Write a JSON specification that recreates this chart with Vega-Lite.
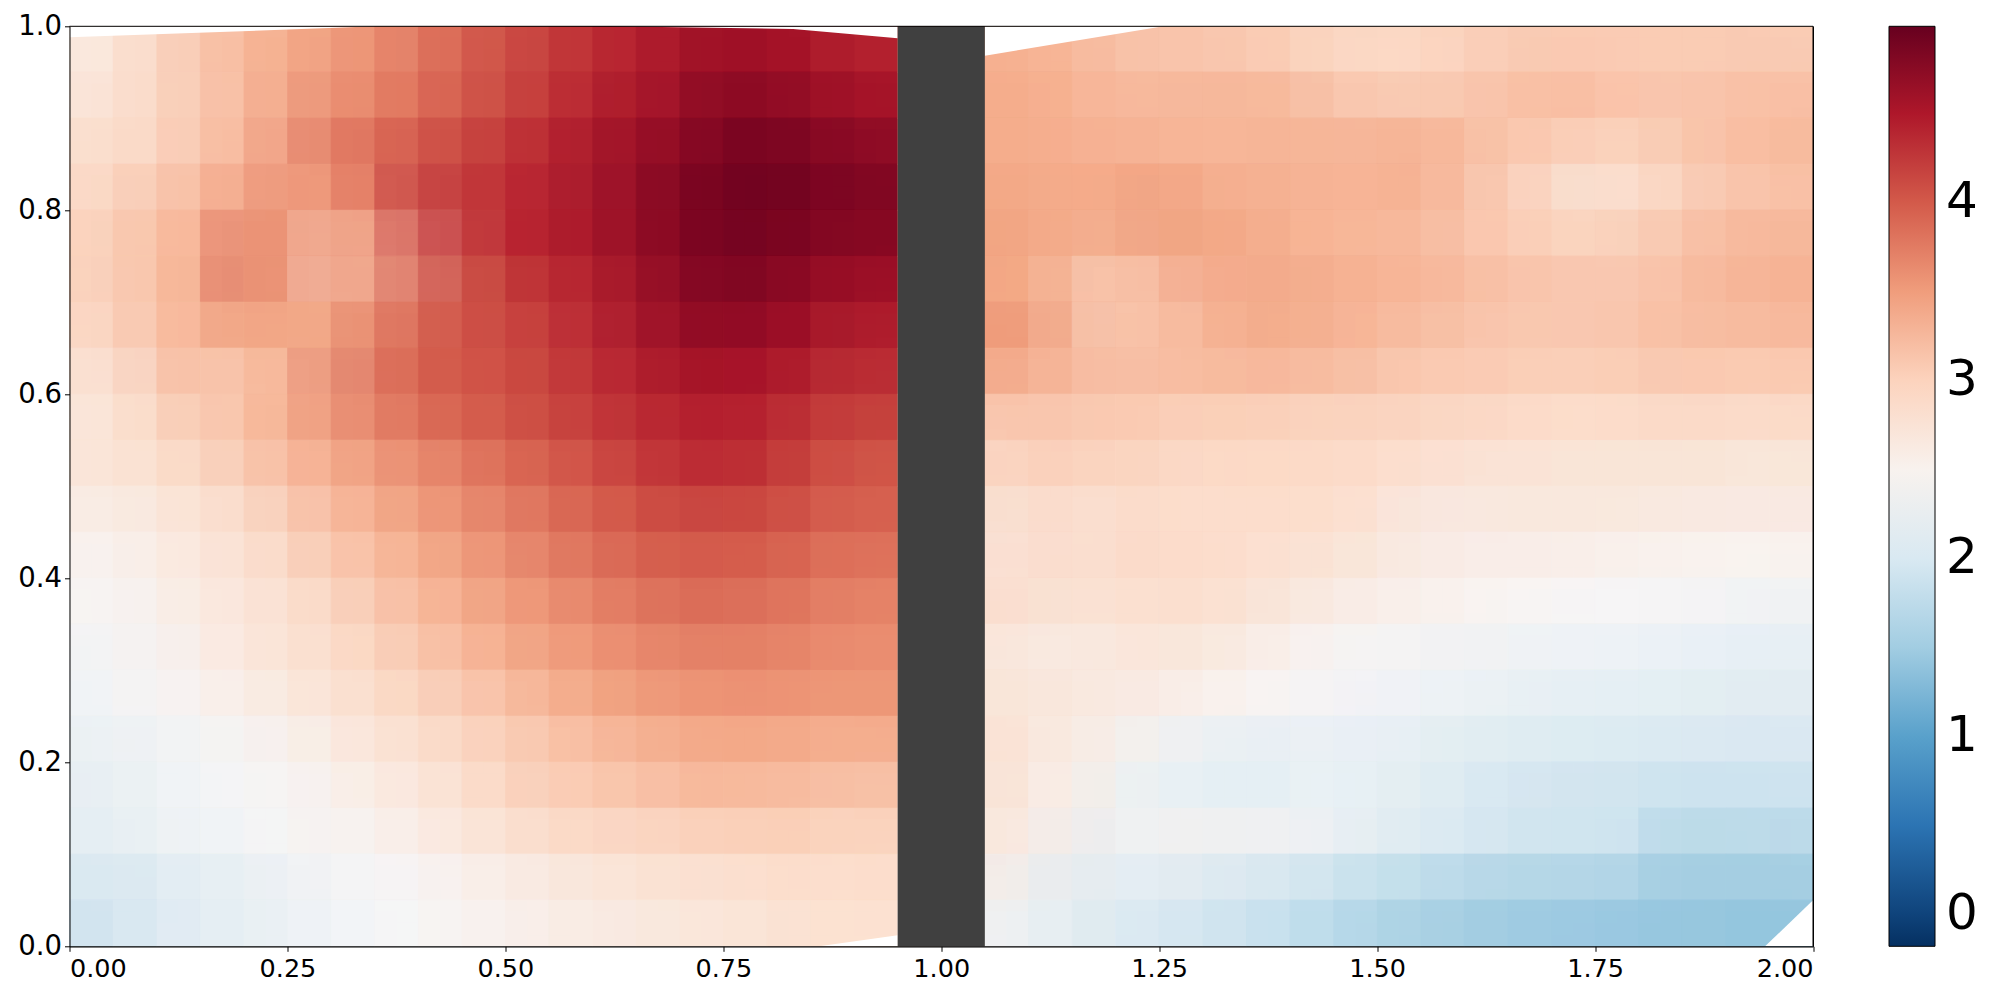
{"$schema":"https://vega.github.io/schema/vega-lite/v6.json","autosize":{"type":"none"},"padding":{"left":69.5,"top":26.3,"right":187,"bottom":53.7},"width":1743.5,"height":920,"background":"white","config":{"view":{"stroke":"black","strokeWidth":1},"font":"DejaVu Sans"},"datasets":{"grid":[
{"x":0,"y":1,"v":2.45},{"x":0.05,"y":1,"v":2.65},{"x":0.1,"y":1,"v":2.85},{"x":0.15,"y":1,"v":3.0},{"x":0.2,"y":1,"v":3.1},{"x":0.25,"y":1,"v":3.25},{"x":0.3,"y":1,"v":3.4},{"x":0.35,"y":1,"v":3.5},{"x":0.4,"y":1,"v":3.65},{"x":0.45,"y":1,"v":3.8},{"x":0.5,"y":1,"v":3.95},{"x":0.55,"y":1,"v":4.1},{"x":0.6,"y":1,"v":4.25},{"x":0.65,"y":1,"v":4.4},{"x":0.7,"y":1,"v":4.5},{"x":0.75,"y":1,"v":4.55},{"x":0.8,"y":1,"v":4.55},{"x":0.85,"y":1,"v":4.5},{"x":0.9,"y":1,"v":4.4},{"x":0.95,"y":1,"v":4.2},
{"x":0,"y":0.95,"v":2.4},{"x":0.05,"y":0.95,"v":2.65},{"x":0.1,"y":0.95,"v":2.85},{"x":0.15,"y":0.95,"v":3.05},{"x":0.2,"y":0.95,"v":3.2},{"x":0.25,"y":0.95,"v":3.35},{"x":0.3,"y":0.95,"v":3.45},{"x":0.35,"y":0.95,"v":3.55},{"x":0.4,"y":0.95,"v":3.65},{"x":0.45,"y":0.95,"v":3.85},{"x":0.5,"y":0.95,"v":4.05},{"x":0.55,"y":0.95,"v":4.2},{"x":0.6,"y":0.95,"v":4.25},{"x":0.65,"y":0.95,"v":4.35},{"x":0.7,"y":0.95,"v":4.5},{"x":0.75,"y":0.95,"v":4.6},{"x":0.8,"y":0.95,"v":4.7},{"x":0.85,"y":0.95,"v":4.6},{"x":0.9,"y":0.95,"v":4.5},{"x":0.95,"y":0.95,"v":4.35},
{"x":0,"y":0.9,"v":2.5},{"x":0.05,"y":0.9,"v":2.75},{"x":0.1,"y":0.9,"v":2.9},{"x":0.15,"y":0.9,"v":3.0},{"x":0.2,"y":0.9,"v":3.15},{"x":0.25,"y":0.9,"v":3.3},{"x":0.3,"y":0.9,"v":3.55},{"x":0.35,"y":0.9,"v":3.7},{"x":0.4,"y":0.9,"v":3.7},{"x":0.45,"y":0.9,"v":3.9},{"x":0.5,"y":0.9,"v":4.1},{"x":0.55,"y":0.9,"v":4.2},{"x":0.6,"y":0.9,"v":4.3},{"x":0.65,"y":0.9,"v":4.5},{"x":0.7,"y":0.9,"v":4.6},{"x":0.75,"y":0.9,"v":4.65},{"x":0.8,"y":0.9,"v":4.88},{"x":0.85,"y":0.9,"v":4.75},{"x":0.9,"y":0.9,"v":4.6},{"x":0.95,"y":0.9,"v":4.5},
{"x":0,"y":0.85,"v":2.7},{"x":0.05,"y":0.85,"v":2.85},{"x":0.1,"y":0.85,"v":2.95},{"x":0.15,"y":0.85,"v":2.95},{"x":0.2,"y":0.85,"v":3.2},{"x":0.25,"y":0.85,"v":3.4},{"x":0.3,"y":0.85,"v":3.65},{"x":0.35,"y":0.85,"v":3.85},{"x":0.4,"y":0.85,"v":3.95},{"x":0.45,"y":0.85,"v":4.1},{"x":0.5,"y":0.85,"v":4.2},{"x":0.55,"y":0.85,"v":4.3},{"x":0.6,"y":0.85,"v":4.45},{"x":0.65,"y":0.85,"v":4.6},{"x":0.7,"y":0.85,"v":4.7},{"x":0.75,"y":0.85,"v":4.8},{"x":0.8,"y":0.85,"v":4.9},{"x":0.85,"y":0.85,"v":4.95},{"x":0.9,"y":0.85,"v":4.8},{"x":0.95,"y":0.85,"v":4.65},
{"x":0,"y":0.8,"v":2.75},{"x":0.05,"y":0.8,"v":2.85},{"x":0.1,"y":0.8,"v":3.05},{"x":0.15,"y":0.8,"v":3.2},{"x":0.2,"y":0.8,"v":3.3},{"x":0.25,"y":0.8,"v":3.55},{"x":0.3,"y":0.8,"v":3.65},{"x":0.35,"y":0.8,"v":3.4},{"x":0.4,"y":0.8,"v":3.9},{"x":0.45,"y":0.8,"v":4.5},{"x":0.5,"y":0.8,"v":4.3},{"x":0.55,"y":0.8,"v":4.25},{"x":0.6,"y":0.8,"v":4.45},{"x":0.65,"y":0.8,"v":4.65},{"x":0.7,"y":0.8,"v":4.75},{"x":0.75,"y":0.8,"v":4.88},{"x":0.8,"y":0.8,"v":4.97},{"x":0.85,"y":0.8,"v":4.95},{"x":0.9,"y":0.8,"v":4.85},{"x":0.95,"y":0.8,"v":4.75},
{"x":0,"y":0.75,"v":2.8},{"x":0.05,"y":0.75,"v":2.95},{"x":0.1,"y":0.75,"v":3.15},{"x":0.15,"y":0.75,"v":3.25},{"x":0.2,"y":0.75,"v":3.4},{"x":0.25,"y":0.75,"v":4.0},{"x":0.3,"y":0.75,"v":3.45},{"x":0.35,"y":0.75,"v":2.9},{"x":0.4,"y":0.75,"v":3.4},{"x":0.45,"y":0.75,"v":4.35},{"x":0.5,"y":0.75,"v":4.35},{"x":0.55,"y":0.75,"v":4.3},{"x":0.6,"y":0.75,"v":4.45},{"x":0.65,"y":0.75,"v":4.6},{"x":0.7,"y":0.75,"v":4.75},{"x":0.75,"y":0.75,"v":4.85},{"x":0.8,"y":0.75,"v":4.95},{"x":0.85,"y":0.75,"v":4.85},{"x":0.9,"y":0.75,"v":4.75},{"x":0.95,"y":0.75,"v":4.7},
{"x":0,"y":0.7,"v":2.8},{"x":0.05,"y":0.7,"v":2.95},{"x":0.1,"y":0.7,"v":3.1},{"x":0.15,"y":0.7,"v":3.25},{"x":0.2,"y":0.7,"v":3.45},{"x":0.25,"y":0.7,"v":4.0},{"x":0.3,"y":0.7,"v":3.4},{"x":0.35,"y":0.7,"v":2.9},{"x":0.4,"y":0.7,"v":3.5},{"x":0.45,"y":0.7,"v":4.15},{"x":0.5,"y":0.7,"v":4.15},{"x":0.55,"y":0.7,"v":4.15},{"x":0.6,"y":0.7,"v":4.35},{"x":0.65,"y":0.7,"v":4.5},{"x":0.7,"y":0.7,"v":4.65},{"x":0.75,"y":0.7,"v":4.8},{"x":0.8,"y":0.7,"v":4.9},{"x":0.85,"y":0.7,"v":4.75},{"x":0.9,"y":0.7,"v":4.6},{"x":0.95,"y":0.7,"v":4.5},
{"x":0,"y":0.65,"v":2.75},{"x":0.05,"y":0.65,"v":2.85},{"x":0.1,"y":0.65,"v":3.05},{"x":0.15,"y":0.65,"v":3.25},{"x":0.2,"y":0.65,"v":3.4},{"x":0.25,"y":0.65,"v":3.45},{"x":0.3,"y":0.65,"v":3.35},{"x":0.35,"y":0.65,"v":3.45},{"x":0.4,"y":0.65,"v":3.9},{"x":0.45,"y":0.65,"v":4.05},{"x":0.5,"y":0.65,"v":4.15},{"x":0.55,"y":0.65,"v":4.1},{"x":0.6,"y":0.65,"v":4.25},{"x":0.65,"y":0.65,"v":4.45},{"x":0.7,"y":0.65,"v":4.6},{"x":0.75,"y":0.65,"v":4.7},{"x":0.8,"y":0.65,"v":4.75},{"x":0.85,"y":0.65,"v":4.6},{"x":0.9,"y":0.65,"v":4.5},{"x":0.95,"y":0.65,"v":4.3},
{"x":0,"y":0.6,"v":2.55},{"x":0.05,"y":0.6,"v":2.75},{"x":0.1,"y":0.6,"v":2.9},{"x":0.15,"y":0.6,"v":3.1},{"x":0.2,"y":0.6,"v":3.35},{"x":0.25,"y":0.6,"v":2.95},{"x":0.3,"y":0.6,"v":3.35},{"x":0.35,"y":0.6,"v":3.85},{"x":0.4,"y":0.6,"v":3.85},{"x":0.45,"y":0.6,"v":4.0},{"x":0.5,"y":0.6,"v":4.05},{"x":0.55,"y":0.6,"v":4.1},{"x":0.6,"y":0.6,"v":4.2},{"x":0.65,"y":0.6,"v":4.35},{"x":0.7,"y":0.6,"v":4.45},{"x":0.75,"y":0.6,"v":4.55},{"x":0.8,"y":0.6,"v":4.55},{"x":0.85,"y":0.6,"v":4.45},{"x":0.9,"y":0.6,"v":4.3},{"x":0.95,"y":0.6,"v":4.2},
{"x":0,"y":0.55,"v":2.45},{"x":0.05,"y":0.55,"v":2.7},{"x":0.1,"y":0.55,"v":2.85},{"x":0.15,"y":0.55,"v":3.0},{"x":0.2,"y":0.55,"v":3.15},{"x":0.25,"y":0.55,"v":3.2},{"x":0.3,"y":0.55,"v":3.45},{"x":0.35,"y":0.55,"v":3.6},{"x":0.4,"y":0.55,"v":3.75},{"x":0.45,"y":0.55,"v":3.85},{"x":0.5,"y":0.55,"v":4.0},{"x":0.55,"y":0.55,"v":4.05},{"x":0.6,"y":0.55,"v":4.15},{"x":0.65,"y":0.55,"v":4.25},{"x":0.7,"y":0.55,"v":4.35},{"x":0.75,"y":0.55,"v":4.4},{"x":0.8,"y":0.55,"v":4.45},{"x":0.85,"y":0.55,"v":4.3},{"x":0.9,"y":0.55,"v":4.15},{"x":0.95,"y":0.55,"v":4.05},
{"x":0,"y":0.5,"v":2.55},{"x":0.05,"y":0.5,"v":2.7},{"x":0.1,"y":0.5,"v":2.85},{"x":0.15,"y":0.5,"v":2.8},{"x":0.2,"y":0.5,"v":2.95},{"x":0.25,"y":0.5,"v":3.1},{"x":0.3,"y":0.5,"v":3.3},{"x":0.35,"y":0.5,"v":3.4},{"x":0.4,"y":0.5,"v":3.5},{"x":0.45,"y":0.5,"v":3.65},{"x":0.5,"y":0.5,"v":3.75},{"x":0.55,"y":0.5,"v":3.9},{"x":0.6,"y":0.5,"v":4.0},{"x":0.65,"y":0.5,"v":4.1},{"x":0.7,"y":0.5,"v":4.25},{"x":0.75,"y":0.5,"v":4.35},{"x":0.8,"y":0.5,"v":4.35},{"x":0.85,"y":0.5,"v":4.2},{"x":0.9,"y":0.5,"v":4.0},{"x":0.95,"y":0.5,"v":3.9},
{"x":0,"y":0.45,"v":2.45},{"x":0.05,"y":0.45,"v":2.55},{"x":0.1,"y":0.45,"v":2.65},{"x":0.15,"y":0.45,"v":2.7},{"x":0.2,"y":0.45,"v":2.8},{"x":0.25,"y":0.45,"v":2.9},{"x":0.3,"y":0.45,"v":3.1},{"x":0.35,"y":0.45,"v":3.3},{"x":0.4,"y":0.45,"v":3.4},{"x":0.45,"y":0.45,"v":3.5},{"x":0.5,"y":0.45,"v":3.65},{"x":0.55,"y":0.45,"v":3.75},{"x":0.6,"y":0.45,"v":3.85},{"x":0.65,"y":0.45,"v":4.0},{"x":0.7,"y":0.45,"v":4.05},{"x":0.75,"y":0.45,"v":4.15},{"x":0.8,"y":0.45,"v":4.1},{"x":0.85,"y":0.45,"v":4.05},{"x":0.9,"y":0.45,"v":3.95},{"x":0.95,"y":0.45,"v":3.85},
{"x":0,"y":0.4,"v":2.4},{"x":0.05,"y":0.4,"v":2.45},{"x":0.1,"y":0.4,"v":2.55},{"x":0.15,"y":0.4,"v":2.65},{"x":0.2,"y":0.4,"v":2.75},{"x":0.25,"y":0.4,"v":2.85},{"x":0.3,"y":0.4,"v":2.95},{"x":0.35,"y":0.4,"v":3.15},{"x":0.4,"y":0.4,"v":3.25},{"x":0.45,"y":0.4,"v":3.4},{"x":0.5,"y":0.4,"v":3.5},{"x":0.55,"y":0.4,"v":3.65},{"x":0.6,"y":0.4,"v":3.75},{"x":0.65,"y":0.4,"v":3.85},{"x":0.7,"y":0.4,"v":3.95},{"x":0.75,"y":0.4,"v":4.0},{"x":0.8,"y":0.4,"v":3.95},{"x":0.85,"y":0.4,"v":3.9},{"x":0.9,"y":0.4,"v":3.8},{"x":0.95,"y":0.4,"v":3.7},
{"x":0,"y":0.35,"v":2.35},{"x":0.05,"y":0.35,"v":2.42},{"x":0.1,"y":0.35,"v":2.45},{"x":0.15,"y":0.35,"v":2.55},{"x":0.2,"y":0.35,"v":2.7},{"x":0.25,"y":0.35,"v":2.75},{"x":0.3,"y":0.35,"v":2.85},{"x":0.35,"y":0.35,"v":2.95},{"x":0.4,"y":0.35,"v":3.15},{"x":0.45,"y":0.35,"v":3.3},{"x":0.5,"y":0.35,"v":3.4},{"x":0.55,"y":0.35,"v":3.5},{"x":0.6,"y":0.35,"v":3.6},{"x":0.65,"y":0.35,"v":3.7},{"x":0.7,"y":0.35,"v":3.8},{"x":0.75,"y":0.35,"v":3.85},{"x":0.8,"y":0.35,"v":3.85},{"x":0.85,"y":0.35,"v":3.75},{"x":0.9,"y":0.35,"v":3.7},{"x":0.95,"y":0.35,"v":3.6},
{"x":0,"y":0.3,"v":2.2},{"x":0.05,"y":0.3,"v":2.35},{"x":0.1,"y":0.3,"v":2.42},{"x":0.15,"y":0.3,"v":2.5},{"x":0.2,"y":0.3,"v":2.6},{"x":0.25,"y":0.3,"v":2.75},{"x":0.3,"y":0.3,"v":2.8},{"x":0.35,"y":0.3,"v":2.9},{"x":0.4,"y":0.3,"v":3.0},{"x":0.45,"y":0.3,"v":3.15},{"x":0.5,"y":0.3,"v":3.3},{"x":0.55,"y":0.3,"v":3.4},{"x":0.6,"y":0.3,"v":3.5},{"x":0.65,"y":0.3,"v":3.55},{"x":0.7,"y":0.3,"v":3.65},{"x":0.75,"y":0.3,"v":3.7},{"x":0.8,"y":0.3,"v":3.7},{"x":0.85,"y":0.3,"v":3.65},{"x":0.9,"y":0.3,"v":3.6},{"x":0.95,"y":0.3,"v":3.55},
{"x":0,"y":0.25,"v":2.15},{"x":0.05,"y":0.25,"v":2.3},{"x":0.1,"y":0.25,"v":2.4},{"x":0.15,"y":0.25,"v":2.45},{"x":0.2,"y":0.25,"v":2.5},{"x":0.25,"y":0.25,"v":2.6},{"x":0.3,"y":0.25,"v":2.7},{"x":0.35,"y":0.25,"v":2.8},{"x":0.4,"y":0.25,"v":2.9},{"x":0.45,"y":0.25,"v":3.0},{"x":0.5,"y":0.25,"v":3.1},{"x":0.55,"y":0.25,"v":3.2},{"x":0.6,"y":0.25,"v":3.35},{"x":0.65,"y":0.25,"v":3.45},{"x":0.7,"y":0.25,"v":3.5},{"x":0.75,"y":0.25,"v":3.55},{"x":0.8,"y":0.25,"v":3.55},{"x":0.85,"y":0.25,"v":3.55},{"x":0.9,"y":0.25,"v":3.5},{"x":0.95,"y":0.25,"v":3.5},
{"x":0,"y":0.2,"v":2.05},{"x":0.05,"y":0.2,"v":2.25},{"x":0.1,"y":0.2,"v":2.32},{"x":0.15,"y":0.2,"v":2.3},{"x":0.2,"y":0.2,"v":2.38},{"x":0.25,"y":0.2,"v":2.45},{"x":0.3,"y":0.2,"v":2.55},{"x":0.35,"y":0.2,"v":2.65},{"x":0.4,"y":0.2,"v":2.8},{"x":0.45,"y":0.2,"v":2.85},{"x":0.5,"y":0.2,"v":2.95},{"x":0.55,"y":0.2,"v":3.05},{"x":0.6,"y":0.2,"v":3.15},{"x":0.65,"y":0.2,"v":3.25},{"x":0.7,"y":0.2,"v":3.3},{"x":0.75,"y":0.2,"v":3.35},{"x":0.8,"y":0.2,"v":3.4},{"x":0.85,"y":0.2,"v":3.35},{"x":0.9,"y":0.2,"v":3.3},{"x":0.95,"y":0.2,"v":3.25},
{"x":0,"y":0.15,"v":2.0},{"x":0.05,"y":0.15,"v":2.2},{"x":0.1,"y":0.15,"v":2.3},{"x":0.15,"y":0.15,"v":2.32},{"x":0.2,"y":0.15,"v":2.32},{"x":0.25,"y":0.15,"v":2.4},{"x":0.3,"y":0.15,"v":2.45},{"x":0.35,"y":0.15,"v":2.55},{"x":0.4,"y":0.15,"v":2.65},{"x":0.45,"y":0.15,"v":2.75},{"x":0.5,"y":0.15,"v":2.85},{"x":0.55,"y":0.15,"v":3.0},{"x":0.6,"y":0.15,"v":3.1},{"x":0.65,"y":0.15,"v":3.05},{"x":0.7,"y":0.15,"v":3.15},{"x":0.75,"y":0.15,"v":3.2},{"x":0.8,"y":0.15,"v":3.3},{"x":0.85,"y":0.15,"v":3.15},{"x":0.9,"y":0.15,"v":3.15},{"x":0.95,"y":0.15,"v":3.1},
{"x":0,"y":0.1,"v":1.95},{"x":0.05,"y":0.1,"v":2.15},{"x":0.1,"y":0.1,"v":2.25},{"x":0.15,"y":0.1,"v":2.28},{"x":0.2,"y":0.1,"v":2.32},{"x":0.25,"y":0.1,"v":2.33},{"x":0.3,"y":0.1,"v":2.42},{"x":0.35,"y":0.1,"v":2.5},{"x":0.4,"y":0.1,"v":2.48},{"x":0.45,"y":0.1,"v":2.6},{"x":0.5,"y":0.1,"v":2.75},{"x":0.55,"y":0.1,"v":2.82},{"x":0.6,"y":0.1,"v":2.85},{"x":0.65,"y":0.1,"v":2.95},{"x":0.7,"y":0.1,"v":2.9},{"x":0.75,"y":0.1,"v":2.95},{"x":0.8,"y":0.1,"v":3.0},{"x":0.85,"y":0.1,"v":3.0},{"x":0.9,"y":0.1,"v":3.0},{"x":0.95,"y":0.1,"v":2.85},
{"x":0,"y":0.05,"v":1.8},{"x":0.05,"y":0.05,"v":2.0},{"x":0.1,"y":0.05,"v":2.05},{"x":0.15,"y":0.05,"v":2.05},{"x":0.2,"y":0.05,"v":2.2},{"x":0.25,"y":0.05,"v":2.25},{"x":0.3,"y":0.05,"v":2.3},{"x":0.35,"y":0.05,"v":2.38},{"x":0.4,"y":0.05,"v":2.4},{"x":0.45,"y":0.05,"v":2.42},{"x":0.5,"y":0.05,"v":2.55},{"x":0.55,"y":0.05,"v":2.62},{"x":0.6,"y":0.05,"v":2.65},{"x":0.65,"y":0.05,"v":2.7},{"x":0.7,"y":0.05,"v":2.75},{"x":0.75,"y":0.05,"v":2.8},{"x":0.8,"y":0.05,"v":2.75},{"x":0.85,"y":0.05,"v":2.8},{"x":0.9,"y":0.05,"v":2.85},{"x":0.95,"y":0.05,"v":2.8},
{"x":0,"y":0,"v":1.75},{"x":0.05,"y":0,"v":1.9},{"x":0.1,"y":0,"v":2.0},{"x":0.15,"y":0,"v":2.15},{"x":0.2,"y":0,"v":2.2},{"x":0.25,"y":0,"v":2.22},{"x":0.3,"y":0,"v":2.3},{"x":0.35,"y":0,"v":2.33},{"x":0.4,"y":0,"v":2.4},{"x":0.45,"y":0,"v":2.42},{"x":0.5,"y":0,"v":2.5},{"x":0.55,"y":0,"v":2.55},{"x":0.6,"y":0,"v":2.62},{"x":0.65,"y":0,"v":2.65},{"x":0.7,"y":0,"v":2.65},{"x":0.75,"y":0,"v":2.7},{"x":0.8,"y":0,"v":2.75},{"x":0.85,"y":0,"v":2.78},{"x":0.9,"y":0,"v":2.8},{"x":0.95,"y":0,"v":2.8},
{"x":1.05,"y":1,"v":3.35},{"x":1.1,"y":1,"v":3.3},{"x":1.15,"y":1,"v":3.3},{"x":1.2,"y":1,"v":3.15},{"x":1.25,"y":1,"v":3.1},{"x":1.3,"y":1,"v":3.05},{"x":1.35,"y":1,"v":3.05},{"x":1.4,"y":1,"v":3.03},{"x":1.45,"y":1,"v":3.0},{"x":1.5,"y":1,"v":3.0},{"x":1.55,"y":1,"v":3.03},{"x":1.6,"y":1,"v":3.03},{"x":1.65,"y":1,"v":3.05},{"x":1.7,"y":1,"v":3.05},{"x":1.75,"y":1,"v":3.05},{"x":1.8,"y":1,"v":3.05},{"x":1.85,"y":1,"v":3.05},{"x":1.9,"y":1,"v":3.03},{"x":1.95,"y":1,"v":3.03},{"x":2,"y":1,"v":2.95},
{"x":1.05,"y":0.95,"v":3.35},{"x":1.1,"y":0.95,"v":3.35},{"x":1.15,"y":0.95,"v":3.3},{"x":1.2,"y":0.95,"v":3.25},{"x":1.25,"y":0.95,"v":3.1},{"x":1.3,"y":0.95,"v":3.1},{"x":1.35,"y":0.95,"v":3.15},{"x":1.4,"y":0.95,"v":3.1},{"x":1.45,"y":0.95,"v":3.0},{"x":1.5,"y":0.95,"v":2.8},{"x":1.55,"y":0.95,"v":2.85},{"x":1.6,"y":0.95,"v":2.95},{"x":1.65,"y":0.95,"v":3.05},{"x":1.7,"y":0.95,"v":3.1},{"x":1.75,"y":0.95,"v":3.1},{"x":1.8,"y":0.95,"v":3.05},{"x":1.85,"y":0.95,"v":3.05},{"x":1.9,"y":0.95,"v":3.05},{"x":1.95,"y":0.95,"v":3.1},{"x":2,"y":0.95,"v":3.1},
{"x":1.05,"y":0.9,"v":3.4},{"x":1.1,"y":0.9,"v":3.35},{"x":1.15,"y":0.9,"v":3.35},{"x":1.2,"y":0.9,"v":3.3},{"x":1.25,"y":0.9,"v":3.2},{"x":1.3,"y":0.9,"v":3.25},{"x":1.35,"y":0.9,"v":3.3},{"x":1.4,"y":0.9,"v":3.3},{"x":1.45,"y":0.9,"v":3.25},{"x":1.5,"y":0.9,"v":3.1},{"x":1.55,"y":0.9,"v":3.05},{"x":1.6,"y":0.9,"v":3.1},{"x":1.65,"y":0.9,"v":3.15},{"x":1.7,"y":0.9,"v":3.2},{"x":1.75,"y":0.9,"v":3.25},{"x":1.8,"y":0.9,"v":3.2},{"x":1.85,"y":0.9,"v":3.05},{"x":1.9,"y":0.9,"v":3.1},{"x":1.95,"y":0.9,"v":3.2},{"x":2,"y":0.9,"v":3.25},
{"x":1.05,"y":0.85,"v":3.4},{"x":1.1,"y":0.85,"v":3.35},{"x":1.15,"y":0.85,"v":3.35},{"x":1.2,"y":0.85,"v":3.3},{"x":1.25,"y":0.85,"v":3.3},{"x":1.3,"y":0.85,"v":3.3},{"x":1.35,"y":0.85,"v":3.25},{"x":1.4,"y":0.85,"v":3.25},{"x":1.45,"y":0.85,"v":3.3},{"x":1.5,"y":0.85,"v":3.3},{"x":1.55,"y":0.85,"v":3.3},{"x":1.6,"y":0.85,"v":3.35},{"x":1.65,"y":0.85,"v":3.2},{"x":1.7,"y":0.85,"v":3.0},{"x":1.75,"y":0.85,"v":2.95},{"x":1.8,"y":0.85,"v":2.95},{"x":1.85,"y":0.85,"v":3.0},{"x":1.9,"y":0.85,"v":3.15},{"x":1.95,"y":0.85,"v":3.25},{"x":2,"y":0.85,"v":3.25},
{"x":1.05,"y":0.8,"v":3.45},{"x":1.1,"y":0.8,"v":3.4},{"x":1.15,"y":0.8,"v":3.4},{"x":1.2,"y":0.8,"v":3.35},{"x":1.25,"y":0.8,"v":3.4},{"x":1.3,"y":0.8,"v":3.5},{"x":1.35,"y":0.8,"v":3.4},{"x":1.4,"y":0.8,"v":3.22},{"x":1.45,"y":0.8,"v":3.3},{"x":1.5,"y":0.8,"v":3.3},{"x":1.55,"y":0.8,"v":3.28},{"x":1.6,"y":0.8,"v":3.3},{"x":1.65,"y":0.8,"v":3.1},{"x":1.7,"y":0.8,"v":2.9},{"x":1.75,"y":0.8,"v":2.75},{"x":1.8,"y":0.8,"v":2.7},{"x":1.85,"y":0.8,"v":2.9},{"x":1.9,"y":0.8,"v":3.05},{"x":1.95,"y":0.8,"v":3.2},{"x":2,"y":0.8,"v":3.15},
{"x":1.05,"y":0.75,"v":3.45},{"x":1.1,"y":0.75,"v":3.5},{"x":1.15,"y":0.75,"v":3.35},{"x":1.2,"y":0.75,"v":3.3},{"x":1.25,"y":0.75,"v":3.3},{"x":1.3,"y":0.75,"v":3.5},{"x":1.35,"y":0.75,"v":3.45},{"x":1.4,"y":0.75,"v":3.35},{"x":1.45,"y":0.75,"v":3.25},{"x":1.5,"y":0.75,"v":3.25},{"x":1.55,"y":0.75,"v":3.25},{"x":1.6,"y":0.75,"v":3.2},{"x":1.65,"y":0.75,"v":3.1},{"x":1.7,"y":0.75,"v":3.0},{"x":1.75,"y":0.75,"v":3.0},{"x":1.8,"y":0.75,"v":3.0},{"x":1.85,"y":0.75,"v":3.1},{"x":1.9,"y":0.75,"v":3.2},{"x":1.95,"y":0.75,"v":3.3},{"x":2,"y":0.75,"v":3.3},
{"x":1.05,"y":0.7,"v":3.45},{"x":1.1,"y":0.7,"v":3.45},{"x":1.15,"y":0.7,"v":3.35},{"x":1.2,"y":0.7,"v":3.1},{"x":1.25,"y":0.7,"v":2.85},{"x":1.3,"y":0.7,"v":3.25},{"x":1.35,"y":0.7,"v":3.55},{"x":1.4,"y":0.7,"v":3.4},{"x":1.45,"y":0.7,"v":3.3},{"x":1.5,"y":0.7,"v":3.3},{"x":1.55,"y":0.7,"v":3.3},{"x":1.6,"y":0.7,"v":3.25},{"x":1.65,"y":0.7,"v":3.2},{"x":1.7,"y":0.7,"v":3.1},{"x":1.75,"y":0.7,"v":3.1},{"x":1.8,"y":0.7,"v":3.1},{"x":1.85,"y":0.7,"v":3.1},{"x":1.9,"y":0.7,"v":3.2},{"x":1.95,"y":0.7,"v":3.35},{"x":2,"y":0.7,"v":3.3},
{"x":1.05,"y":0.65,"v":3.5},{"x":1.1,"y":0.65,"v":3.55},{"x":1.15,"y":0.65,"v":3.5},{"x":1.2,"y":0.65,"v":3.15},{"x":1.25,"y":0.65,"v":2.85},{"x":1.3,"y":0.65,"v":3.25},{"x":1.35,"y":0.65,"v":3.35},{"x":1.4,"y":0.65,"v":3.45},{"x":1.45,"y":0.65,"v":3.3},{"x":1.5,"y":0.65,"v":3.25},{"x":1.55,"y":0.65,"v":3.2},{"x":1.6,"y":0.65,"v":3.15},{"x":1.65,"y":0.65,"v":3.1},{"x":1.7,"y":0.65,"v":3.05},{"x":1.75,"y":0.65,"v":3.08},{"x":1.8,"y":0.65,"v":3.1},{"x":1.85,"y":0.65,"v":3.15},{"x":1.9,"y":0.65,"v":3.25},{"x":1.95,"y":0.65,"v":3.2},{"x":2,"y":0.65,"v":3.2},
{"x":1.05,"y":0.6,"v":3.2},{"x":1.1,"y":0.6,"v":3.35},{"x":1.15,"y":0.6,"v":3.3},{"x":1.2,"y":0.6,"v":3.2},{"x":1.25,"y":0.6,"v":3.1},{"x":1.3,"y":0.6,"v":3.2},{"x":1.35,"y":0.6,"v":3.25},{"x":1.4,"y":0.6,"v":3.2},{"x":1.45,"y":0.6,"v":3.2},{"x":1.5,"y":0.6,"v":3.15},{"x":1.55,"y":0.6,"v":3.1},{"x":1.6,"y":0.6,"v":3.0},{"x":1.65,"y":0.6,"v":3.05},{"x":1.7,"y":0.6,"v":3.05},{"x":1.75,"y":0.6,"v":3.0},{"x":1.8,"y":0.6,"v":3.0},{"x":1.85,"y":0.6,"v":3.05},{"x":1.9,"y":0.6,"v":3.1},{"x":1.95,"y":0.6,"v":3.05},{"x":2,"y":0.6,"v":3.0},
{"x":1.05,"y":0.55,"v":2.95},{"x":1.1,"y":0.55,"v":2.9},{"x":1.15,"y":0.55,"v":3.2},{"x":1.2,"y":0.55,"v":3.1},{"x":1.25,"y":0.55,"v":3.0},{"x":1.3,"y":0.55,"v":3.0},{"x":1.35,"y":0.55,"v":2.95},{"x":1.4,"y":0.55,"v":3.0},{"x":1.45,"y":0.55,"v":2.95},{"x":1.5,"y":0.55,"v":2.9},{"x":1.55,"y":0.55,"v":2.95},{"x":1.6,"y":0.55,"v":2.95},{"x":1.65,"y":0.55,"v":2.85},{"x":1.7,"y":0.55,"v":2.85},{"x":1.75,"y":0.55,"v":2.8},{"x":1.8,"y":0.55,"v":2.8},{"x":1.85,"y":0.55,"v":2.85},{"x":1.9,"y":0.55,"v":2.9},{"x":1.95,"y":0.55,"v":2.85},{"x":2,"y":0.55,"v":2.8},
{"x":1.05,"y":0.5,"v":3.3},{"x":1.1,"y":0.5,"v":2.75},{"x":1.15,"y":0.5,"v":2.85},{"x":1.2,"y":0.5,"v":3.05},{"x":1.25,"y":0.5,"v":3.0},{"x":1.3,"y":0.5,"v":2.85},{"x":1.35,"y":0.5,"v":2.8},{"x":1.4,"y":0.5,"v":2.95},{"x":1.45,"y":0.5,"v":2.92},{"x":1.5,"y":0.5,"v":2.9},{"x":1.55,"y":0.5,"v":2.82},{"x":1.6,"y":0.5,"v":2.75},{"x":1.65,"y":0.5,"v":2.72},{"x":1.7,"y":0.5,"v":2.7},{"x":1.75,"y":0.5,"v":2.75},{"x":1.8,"y":0.5,"v":2.7},{"x":1.85,"y":0.5,"v":2.7},{"x":1.9,"y":0.5,"v":2.7},{"x":1.95,"y":0.5,"v":2.7},{"x":2,"y":0.5,"v":2.65},
{"x":1.05,"y":0.45,"v":3.25},{"x":1.1,"y":0.45,"v":2.45},{"x":1.15,"y":0.45,"v":2.7},{"x":1.2,"y":0.45,"v":2.9},{"x":1.25,"y":0.45,"v":2.9},{"x":1.3,"y":0.45,"v":2.85},{"x":1.35,"y":0.45,"v":2.8},{"x":1.4,"y":0.45,"v":2.85},{"x":1.45,"y":0.45,"v":2.85},{"x":1.5,"y":0.45,"v":2.8},{"x":1.55,"y":0.45,"v":2.72},{"x":1.6,"y":0.45,"v":2.55},{"x":1.65,"y":0.45,"v":2.6},{"x":1.7,"y":0.45,"v":2.7},{"x":1.75,"y":0.45,"v":2.7},{"x":1.8,"y":0.45,"v":2.65},{"x":1.85,"y":0.45,"v":2.65},{"x":1.9,"y":0.45,"v":2.6},{"x":1.95,"y":0.45,"v":2.6},{"x":2,"y":0.45,"v":2.6},
{"x":1.05,"y":0.4,"v":3.1},{"x":1.1,"y":0.4,"v":2.55},{"x":1.15,"y":0.4,"v":2.8},{"x":1.2,"y":0.4,"v":2.9},{"x":1.25,"y":0.4,"v":2.9},{"x":1.3,"y":0.4,"v":2.9},{"x":1.35,"y":0.4,"v":2.85},{"x":1.4,"y":0.4,"v":2.8},{"x":1.45,"y":0.4,"v":2.75},{"x":1.5,"y":0.4,"v":2.7},{"x":1.55,"y":0.4,"v":2.65},{"x":1.6,"y":0.4,"v":2.55},{"x":1.65,"y":0.4,"v":2.55},{"x":1.7,"y":0.4,"v":2.55},{"x":1.75,"y":0.4,"v":2.55},{"x":1.8,"y":0.4,"v":2.5},{"x":1.85,"y":0.4,"v":2.45},{"x":1.9,"y":0.4,"v":2.45},{"x":1.95,"y":0.4,"v":2.45},{"x":2,"y":0.4,"v":2.45},
{"x":1.05,"y":0.35,"v":2.9},{"x":1.1,"y":0.35,"v":2.9},{"x":1.15,"y":0.35,"v":2.75},{"x":1.2,"y":0.35,"v":2.7},{"x":1.25,"y":0.35,"v":2.8},{"x":1.3,"y":0.35,"v":2.85},{"x":1.35,"y":0.35,"v":2.8},{"x":1.4,"y":0.35,"v":2.7},{"x":1.45,"y":0.35,"v":2.6},{"x":1.5,"y":0.35,"v":2.55},{"x":1.55,"y":0.35,"v":2.5},{"x":1.6,"y":0.35,"v":2.5},{"x":1.65,"y":0.35,"v":2.45},{"x":1.7,"y":0.35,"v":2.4},{"x":1.75,"y":0.35,"v":2.4},{"x":1.8,"y":0.35,"v":2.38},{"x":1.85,"y":0.35,"v":2.38},{"x":1.9,"y":0.35,"v":2.35},{"x":1.95,"y":0.35,"v":2.33},{"x":2,"y":0.35,"v":2.25},
{"x":1.05,"y":0.3,"v":2.85},{"x":1.1,"y":0.3,"v":2.65},{"x":1.15,"y":0.3,"v":2.55},{"x":1.2,"y":0.3,"v":2.6},{"x":1.25,"y":0.3,"v":2.7},{"x":1.3,"y":0.3,"v":2.75},{"x":1.35,"y":0.3,"v":2.65},{"x":1.4,"y":0.3,"v":2.5},{"x":1.45,"y":0.3,"v":2.43},{"x":1.5,"y":0.3,"v":2.38},{"x":1.55,"y":0.3,"v":2.35},{"x":1.6,"y":0.3,"v":2.33},{"x":1.65,"y":0.3,"v":2.3},{"x":1.7,"y":0.3,"v":2.28},{"x":1.75,"y":0.3,"v":2.25},{"x":1.8,"y":0.3,"v":2.25},{"x":1.85,"y":0.3,"v":2.25},{"x":1.9,"y":0.3,"v":2.2},{"x":1.95,"y":0.3,"v":2.18},{"x":2,"y":0.3,"v":2.15},
{"x":1.05,"y":0.25,"v":2.8},{"x":1.1,"y":0.25,"v":2.75},{"x":1.15,"y":0.25,"v":2.7},{"x":1.2,"y":0.25,"v":2.65},{"x":1.25,"y":0.25,"v":2.6},{"x":1.3,"y":0.25,"v":2.55},{"x":1.35,"y":0.25,"v":2.45},{"x":1.4,"y":0.25,"v":2.42},{"x":1.45,"y":0.25,"v":2.38},{"x":1.5,"y":0.25,"v":2.35},{"x":1.55,"y":0.25,"v":2.3},{"x":1.6,"y":0.25,"v":2.28},{"x":1.65,"y":0.25,"v":2.22},{"x":1.7,"y":0.25,"v":2.2},{"x":1.75,"y":0.25,"v":2.18},{"x":1.8,"y":0.25,"v":2.18},{"x":1.85,"y":0.25,"v":2.15},{"x":1.9,"y":0.25,"v":2.12},{"x":1.95,"y":0.25,"v":2.1},{"x":2,"y":0.25,"v":2.1},
{"x":1.05,"y":0.2,"v":2.6},{"x":1.1,"y":0.2,"v":2.85},{"x":1.15,"y":0.2,"v":2.75},{"x":1.2,"y":0.2,"v":2.5},{"x":1.25,"y":0.2,"v":2.35},{"x":1.3,"y":0.2,"v":2.25},{"x":1.35,"y":0.2,"v":2.2},{"x":1.4,"y":0.2,"v":2.18},{"x":1.45,"y":0.2,"v":2.2},{"x":1.5,"y":0.2,"v":2.25},{"x":1.55,"y":0.2,"v":2.15},{"x":1.6,"y":0.2,"v":2.13},{"x":1.65,"y":0.2,"v":2.08},{"x":1.7,"y":0.2,"v":2.05},{"x":1.75,"y":0.2,"v":2.03},{"x":1.8,"y":0.2,"v":2.02},{"x":1.85,"y":0.2,"v":2.0},{"x":1.9,"y":0.2,"v":2.0},{"x":1.95,"y":0.2,"v":2.0},{"x":2,"y":0.2,"v":1.98},
{"x":1.05,"y":0.15,"v":2.55},{"x":1.1,"y":0.15,"v":2.95},{"x":1.15,"y":0.15,"v":2.65},{"x":1.2,"y":0.15,"v":2.4},{"x":1.25,"y":0.15,"v":2.22},{"x":1.3,"y":0.15,"v":2.18},{"x":1.35,"y":0.15,"v":2.18},{"x":1.4,"y":0.15,"v":2.15},{"x":1.45,"y":0.15,"v":2.15},{"x":1.5,"y":0.15,"v":2.35},{"x":1.55,"y":0.15,"v":2.15},{"x":1.6,"y":0.15,"v":2.05},{"x":1.65,"y":0.15,"v":1.98},{"x":1.7,"y":0.15,"v":1.93},{"x":1.75,"y":0.15,"v":1.9},{"x":1.8,"y":0.15,"v":1.88},{"x":1.85,"y":0.15,"v":1.88},{"x":1.9,"y":0.15,"v":1.8},{"x":1.95,"y":0.15,"v":1.82},{"x":2,"y":0.15,"v":1.85},
{"x":1.05,"y":0.1,"v":2.6},{"x":1.1,"y":0.1,"v":2.9},{"x":1.15,"y":0.1,"v":2.45},{"x":1.2,"y":0.1,"v":2.2},{"x":1.25,"y":0.1,"v":2.2},{"x":1.3,"y":0.1,"v":2.45},{"x":1.35,"y":0.1,"v":2.55},{"x":1.4,"y":0.1,"v":2.3},{"x":1.45,"y":0.1,"v":2.3},{"x":1.5,"y":0.1,"v":2.25},{"x":1.55,"y":0.1,"v":2.05},{"x":1.6,"y":0.1,"v":1.98},{"x":1.65,"y":0.1,"v":1.95},{"x":1.7,"y":0.1,"v":1.9},{"x":1.75,"y":0.1,"v":1.85},{"x":1.8,"y":0.1,"v":1.88},{"x":1.85,"y":0.1,"v":1.85},{"x":1.9,"y":0.1,"v":1.5},{"x":1.95,"y":0.1,"v":1.7},{"x":2,"y":0.1,"v":1.75},
{"x":1.05,"y":0.05,"v":2.5},{"x":1.1,"y":0.05,"v":2.65},{"x":1.15,"y":0.05,"v":2.15},{"x":1.2,"y":0.05,"v":2.05},{"x":1.25,"y":0.05,"v":2.1},{"x":1.3,"y":0.05,"v":2.15},{"x":1.35,"y":0.05,"v":2.0},{"x":1.4,"y":0.05,"v":1.9},{"x":1.45,"y":0.05,"v":1.85},{"x":1.5,"y":0.05,"v":1.8},{"x":1.55,"y":0.05,"v":1.7},{"x":1.6,"y":0.05,"v":1.7},{"x":1.65,"y":0.05,"v":1.62},{"x":1.7,"y":0.05,"v":1.58},{"x":1.75,"y":0.05,"v":1.6},{"x":1.8,"y":0.05,"v":1.62},{"x":1.85,"y":0.05,"v":1.55},{"x":1.9,"y":0.05,"v":1.4},{"x":1.95,"y":0.05,"v":1.5},{"x":2,"y":0.05,"v":1.5},
{"x":1.05,"y":0,"v":2.4},{"x":1.1,"y":0,"v":2.45},{"x":1.15,"y":0,"v":2.1},{"x":1.2,"y":0,"v":2.05},{"x":1.25,"y":0,"v":2.0},{"x":1.3,"y":0,"v":1.95},{"x":1.35,"y":0,"v":1.85},{"x":1.4,"y":0,"v":1.8},{"x":1.45,"y":0,"v":1.72},{"x":1.5,"y":0,"v":1.65},{"x":1.55,"y":0,"v":1.55},{"x":1.6,"y":0,"v":1.5},{"x":1.65,"y":0,"v":1.5},{"x":1.7,"y":0,"v":1.45},{"x":1.75,"y":0,"v":1.42},{"x":1.8,"y":0,"v":1.42},{"x":1.85,"y":0,"v":1.4},{"x":1.9,"y":0,"v":1.4},{"x":1.95,"y":0,"v":1.4},{"x":2,"y":0,"v":1.35}
],"wedges":[
{"g":"a","x":0,"y":0.988,"y2":1},{"g":"a","x":0.352,"y":1,"y2":1},
{"g":"b","x":0.62,"y":1,"y2":1},{"g":"b","x":0.83,"y":0.997,"y2":1},{"g":"b","x":0.95,"y":0.987,"y2":1},
{"g":"c","x":1.05,"y":0.968,"y2":1},{"g":"c","x":1.255,"y":1,"y2":1},
{"g":"d","x":0.86,"y":0,"y2":0},{"g":"d","x":0.95,"y":0.012,"y2":0},
{"g":"e","x":1.945,"y":0,"y2":0},{"g":"e","x":2,"y":0.05,"y2":0}
]},"layer":[
{"data":{"name":"grid"},"mark":{"type":"rect","width":88,"height":47,"clip":true},"encoding":{
"x":{"field":"x","type":"quantitative","scale":{"domain":[0,2],"nice":false},"title":null,"axis":{"values":[0,0.25,0.5,0.75,1,1.25,1.5,1.75,2],"format":".2f","grid":false,"labelFont":"DejaVu Sans","labelFontSize":25.5,"labelColor":"black","tickColor":"black","domainColor":"black","tickSize":5,"labelPadding":5,"zindex":1}},
"y":{"field":"y","type":"quantitative","scale":{"domain":[0,1],"nice":false},"title":null,"axis":{"values":[0,0.2,0.4,0.6,0.8,1],"format":".1f","grid":false,"labelFont":"DejaVu Sans","labelFontSize":27.5,"labelColor":"black","tickColor":"black","domainColor":"black","tickSize":5,"labelPadding":3,"zindex":1}},
"color":{"field":"v","type":"quantitative","scale":{"domain":[-0.18,0.337,0.854,1.371,1.888,2.405,2.922,3.439,3.956,4.473,4.99],"range":["#053061","#2166ac","#4393c3","#92c5de","#d1e5f0","#f7f7f7","#fddbc7","#f4a582","#d6604d","#b2182b","#67001f"],"interpolate":"rgb"},"legend":{"orient":"none","legendX":1819.5,"legendY":0,"title":null,"padding":0,"gradientLength":920,"gradientThickness":46,"gradientStrokeColor":"black","gradientStrokeWidth":1,"values":[0,1,2,3,4],"format":"d","labelFont":"DejaVu Sans","labelFontSize":50,"labelColor":"black","labelOffset":11,"labelOverlap":false}}}},
{"data":{"name":"grid"},"mark":{"type":"rect","width":131,"height":70,"clip":true,"opacity":0.45},"encoding":{"x":{"field":"x","type":"quantitative"},"y":{"field":"y","type":"quantitative"},"color":{"field":"v","type":"quantitative","legend":null}}},
{"data":{"name":"grid"},"mark":{"type":"rect","width":175,"height":93,"clip":true,"opacity":0.3},"encoding":{"x":{"field":"x","type":"quantitative"},"y":{"field":"y","type":"quantitative"},"color":{"field":"v","type":"quantitative","legend":null}}},
{"data":{"name":"wedges"},"mark":{"type":"area","color":"white","clip":true},"encoding":{"x":{"field":"x","type":"quantitative"},"y":{"field":"y","type":"quantitative"},"y2":{"field":"y2"},"detail":{"field":"g"}}},
{"data":{"values":[{"a":0.95,"b":1.05,"c":0,"d":1}]},"mark":{"type":"rect","color":"#404040"},"encoding":{"x":{"field":"a","type":"quantitative"},"x2":{"field":"b"},"y":{"field":"c","type":"quantitative"},"y2":{"field":"d"}}},
{"data":{"values":[{"x":2}]},"mark":{"type":"rule","color":"black","strokeWidth":1},"encoding":{"x":{"field":"x","type":"quantitative"}}},
{"data":{"values":[{"y":1}]},"mark":{"type":"rule","color":"black","strokeWidth":1},"encoding":{"y":{"field":"y","type":"quantitative"}}}
]}
